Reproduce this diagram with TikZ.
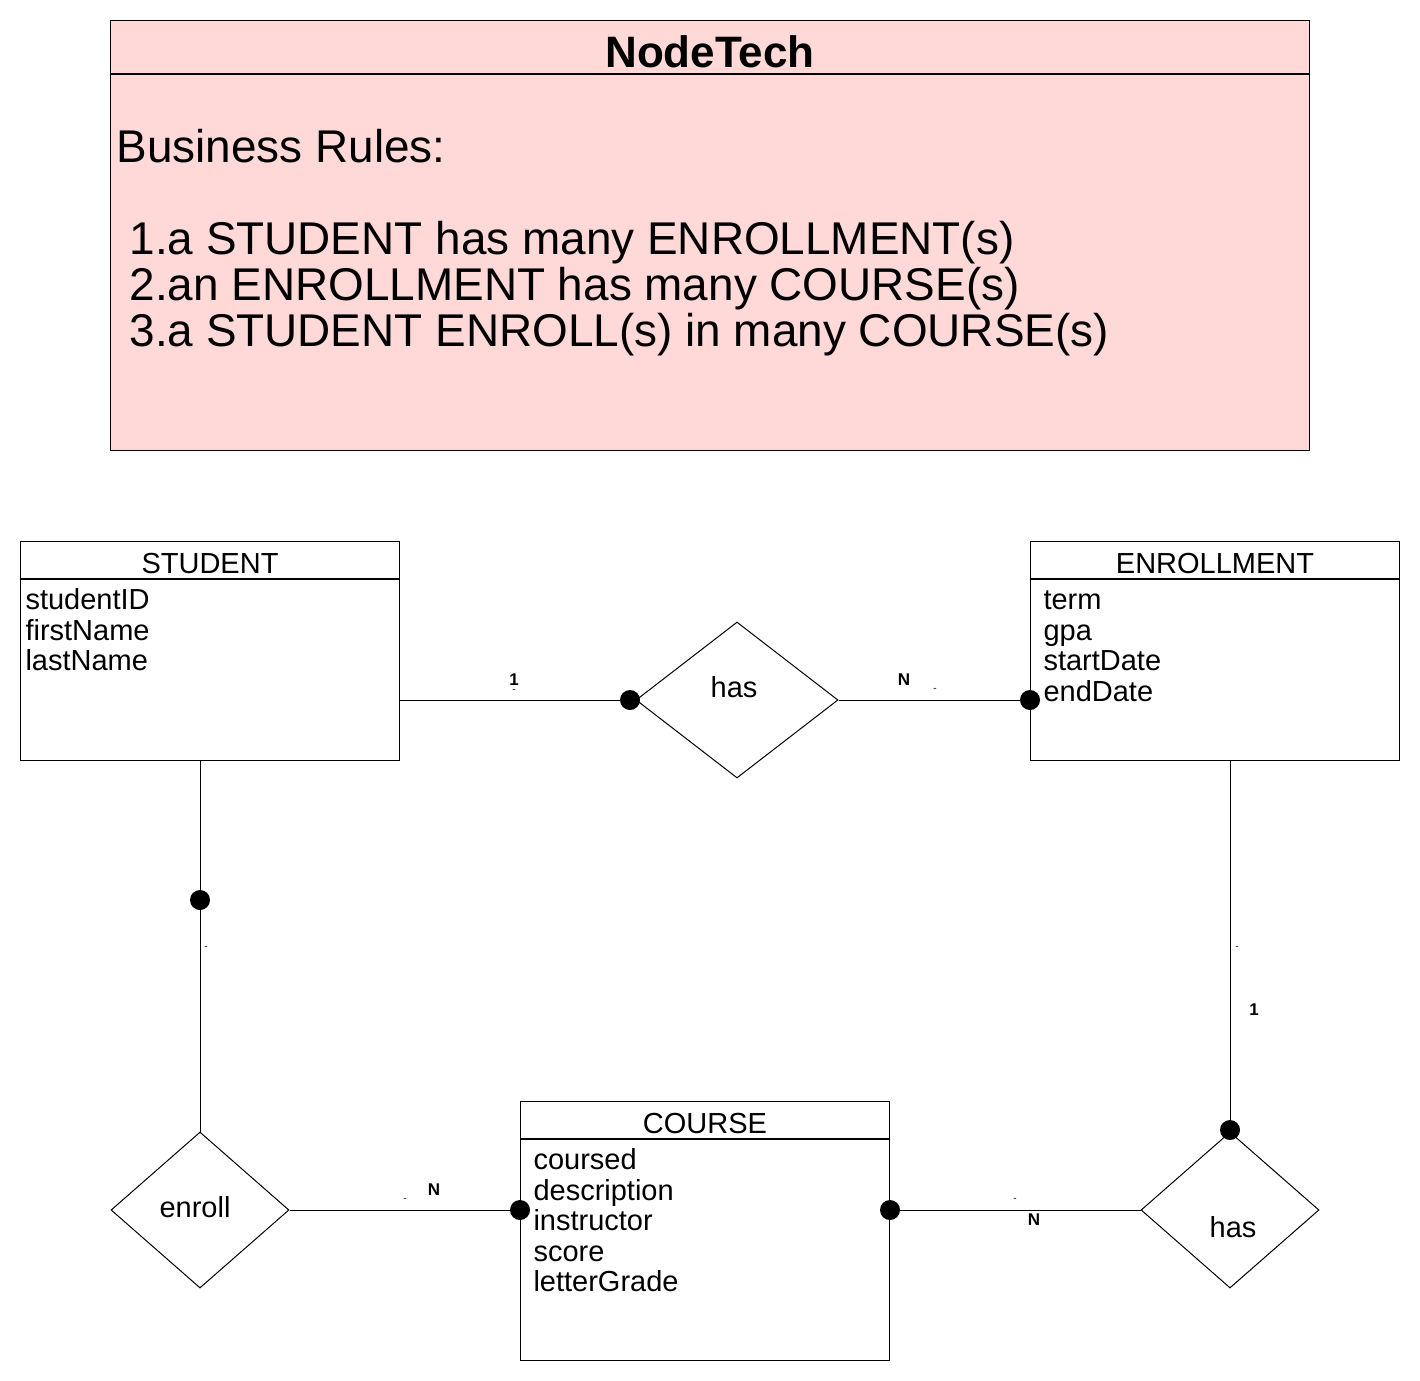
\documentclass[tikz,border=0pt]{standalone}
\usepackage{fontspec}
\setmainfont{Liberation Sans}
\usetikzlibrary{positioning,shapes.geometric}
\definecolor{rulefill}{RGB}{255,216,216}

\begin{document}
\begin{tikzpicture}[x=1pt,y=-1pt,line width=1pt,
  every node/.style={inner sep=0pt},
  ehead/.style={draw,minimum height=37pt,text height=26pt,text depth=0pt,font=\fontsize{29}{30}\selectfont},
  ebody/.style={draw,minimum height=181pt},
  attrs/.style={align=left,font=\fontsize{29}{30.6}\selectfont},
  rel/.style={draw,diamond,aspect=1},
  rellabel/.style={font=\fontsize{29}{30}\selectfont},
  dot/.style={circle,fill,minimum size=20pt},
  card/.style={font=\fontsize{17}{17}\bfseries\selectfont},
  tick/.style={font=\fontsize{10}{10}\selectfont}]
\useasboundingbox (0,0) rectangle (1420,1380);
% business rules
\node[draw,fill=rulefill,minimum width=1199pt,minimum height=53pt,text height=42pt,text depth=0pt,anchor=north west,font=\fontsize{44}{46}\bfseries\selectfont] (title) at (110,20) {NodeTech};
\node[draw,fill=rulefill,minimum width=1199pt,minimum height=376pt,below=0pt of title] (rules) {};
\node[anchor=north west,align=left,font=\fontsize{45.9}{46}\selectfont] (rulestext) at (116,129)
  {Business Rules:\\\mbox{}\\\hspace*{13pt}1.a STUDENT has many ENROLLMENT(s)\\\hspace*{13pt}2.an ENROLLMENT has many COURSE(s)\\\hspace*{13pt}3.a STUDENT ENROLL(s) in many COURSE(s)};
% entities
\node[ehead,minimum width=379pt,anchor=north west] (student) at (20,541) {STUDENT};
\node[ebody,minimum width=379pt,below=0pt of student] (studentbody) {};
\node[attrs,anchor=north west] (studentattrs) at (25,587.6) {\strut studentID\\firstName\\lastName};
\node[ehead,minimum width=369pt,anchor=north west] (enroll) at (1030,541) {ENROLLMENT};
\node[ebody,minimum width=369pt,below=0pt of enroll] (enrollbody) {};
\node[attrs,anchor=north west] (enrollattrs) at (1043,587.6) {\strut term\\gpa\\startDate\\endDate};
\node[ehead,minimum width=369pt,anchor=north west] (course) at (520,1101) {COURSE};
\node[ebody,minimum width=369pt,minimum height=221pt,below=0pt of course] (coursebody) {};
\node[attrs,anchor=north west] (courseattrs) at (533,1147.6) {\strut coursed\\description\\instructor\\score\\letterGrade};
% relationships
\node[rel,minimum width=202pt,minimum height=156pt] (hasone) at (737,700) {};
\node[rellabel] (hasonelabel) at (734,687) {has};
\node[rel,minimum width=178pt,minimum height=156pt] (enrollrel) at (200,1210) {};
\node[rellabel] (enrolllabel) at (195,1207) {enroll};
\node[rel,minimum width=178pt,minimum height=156pt] (hastwo) at (1230,1210) {};
\node[rellabel] (hastwolabel) at (1233,1227) {has};
% connectors
\draw (hasone.west -| studentbody.east) -- (hasone.west);
\draw (hasone.east) -- (hasone.east -| enrollbody.west);
\draw (enrollrel.north |- studentbody.south) -- (enrollrel.north);
\draw (hastwo.north |- enrollbody.south) -- (hastwo.north);
\draw (enrollrel.east) -- (enrollrel.east -| coursebody.west);
\draw (hastwo.west -| coursebody.east) -- (hastwo.west);
% dots
\node[dot] (dota) at (630,700) {};
\node[dot] (dotb) at (1030,700) {};
\node[dot] (dotc) at (200,900) {};
\node[dot] (dotd) at (1230,1130) {};
\node[dot] (dote) at (520,1210) {};
\node[dot] (dotf) at (890,1210) {};
% cardinalities
\node[card] (carda) at (514,680) {1};
\node[tick] (ticka) at (514,691) {-};
\node[card] (cardb) at (904,680) {N};
\node[tick] (tickb) at (935,690) {-};
\node[tick] (tickc) at (206,948) {-};
\node[tick] (tickd) at (1237,948) {-};
\node[card] (cardd) at (1254,1010) {1};
\node[tick] (ticke) at (405,1200) {-};
\node[card] (carde) at (434,1190) {N};
\node[tick] (tickf) at (1015,1200) {-};
\node[card] (cardf) at (1034,1220) {N};
\end{tikzpicture}
\end{document}
